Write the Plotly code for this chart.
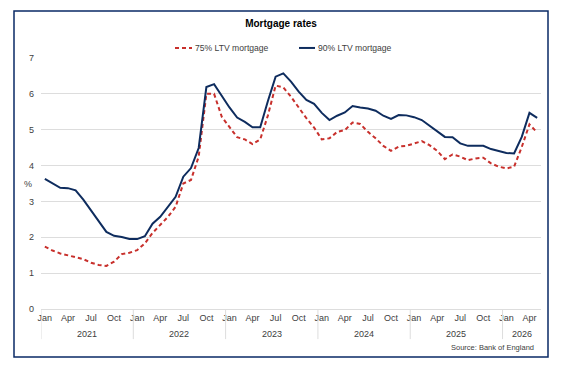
import plotly.graph_objects as go

years = [2021, 2022, 2023, 2024, 2025, 2026]
months = ["Jan", "Feb", "Mar", "Apr", "May", "Jun", "Jul", "Aug", "Sep", "Oct", "Nov", "Dec"]
shown_months = ["Jan", "Apr", "Jul", "Oct"]
n_months_last_year = 5
series_names = ["75% LTV mortgage", "90% LTV mortgage"]

ltv75 = [1.74, 1.63, 1.55, 1.49, 1.44, 1.39, 1.29, 1.23, 1.20, 1.32, 1.53, 1.57,
         1.64, 1.83, 2.12, 2.34, 2.57, 2.85, 3.50, 3.60, 4.25, 6.00, 6.00, 5.36,
         5.08, 4.79, 4.73, 4.60, 4.73, 5.40, 6.23, 6.18, 5.92, 5.62, 5.32, 5.06,
         4.73, 4.76, 4.94, 4.99, 5.20, 5.16, 4.94, 4.76, 4.55, 4.41, 4.53, 4.55,
         4.62, 4.68, 4.57, 4.41, 4.18, 4.31, 4.25, 4.15, 4.20, 4.22, 4.06, 3.97,
         3.92, 3.97, 4.52, 5.15, 4.92]
ltv90 = [3.63, 3.50, 3.38, 3.37, 3.31, 3.05, 2.75, 2.45, 2.15, 2.04, 2.01, 1.95,
         1.95, 2.03, 2.38, 2.57, 2.84, 3.13, 3.69, 3.93, 4.49, 6.19, 6.27, 5.95,
         5.62, 5.34, 5.22, 5.07, 5.07, 5.80, 6.48, 6.57, 6.34, 6.06, 5.83, 5.72,
         5.47, 5.27, 5.39, 5.48, 5.66, 5.62, 5.59, 5.53, 5.39, 5.30, 5.41, 5.40,
         5.35, 5.27, 5.11, 4.94, 4.80, 4.79, 4.62, 4.55, 4.55, 4.55, 4.46, 4.41,
         4.35, 4.34, 4.80, 5.47, 5.33]

labels = []
for y in years:
    cnt = n_months_last_year if y == years[-1] else 12
    for m in months[:cnt]:
        labels.append(f"{m} {y}")
idx = list(range(len(labels)))

tickvals = [i for i, l in enumerate(labels) if l.split()[0] in shown_months]
ticktext = [labels[i].split()[0] for i in tickvals]

navy = "#0E2C5E"
red = "#C8302C"
grid = "#DDDDDD"
txt = "#404040"
font = "Liberation Sans, Arial, sans-serif"
dash75 = "4px,3px"

fig = go.Figure()
fig.add_trace(go.Scatter(x=idx, y=ltv75, mode="lines", name=series_names[0],
                         line=dict(color=red, width=2, dash=dash75), text=labels,
                         hovertemplate="%{text}: %{y}<extra></extra>"))
fig.add_trace(go.Scatter(x=idx, y=ltv90, mode="lines", name=series_names[1],
                         line=dict(color=navy, width=2), text=labels,
                         hovertemplate="%{text}: %{y}<extra></extra>"))

shapes = []
# outer border
shapes.append(dict(type="rect", xref="paper", yref="paper", x0=-0.054, x1=1.014,
                   y0=-0.191, y1=1.187, line=dict(color="#0A2A66", width=1.5),
                   fillcolor="rgba(0,0,0,0)", layer="below"))
# year separators
start = 0
seps = [-0.5]
year_centers = []
for y in years:
    cnt = n_months_last_year if y == years[-1] else 12
    year_centers.append((y, start + (cnt - 1) / 2))
    start += cnt
    if y != years[-1]:
        seps.append(start - 0.5)
for s in seps:
    shapes.append(dict(type="line", xref="x", yref="paper", x0=s, x1=s, y0=0, y1=-0.12,
                       line=dict(color=grid, width=1)))

annotations = []
for y, c in year_centers:
    annotations.append(dict(x=c, y=-0.1, xref="x", yref="paper", text=str(y), showarrow=False,
                            font=dict(size=9, color=txt, family=font), yanchor="middle"))
annotations.append(dict(x=0.99, y=-0.155, xref="paper", yref="paper", text="Source: Bank of England",
                        showarrow=False, xanchor="right", yanchor="middle",
                        font=dict(size=7.5, color=txt, family=font)))
annotations.append(dict(x=-0.038, y=0.498, xref="paper", yref="paper", text="%", showarrow=False,
                        font=dict(size=9, color=txt, family=font)))

# legend drawn manually (short symbols as in the reference)
leg_y = 1.04
leg_items = [(0.268, 0.302, red, dash75, series_names[0]),
             (0.516, 0.548, navy, "solid", series_names[1])]
for x0, x1, col, d, name in leg_items:
    shapes.append(dict(type="line", xref="paper", yref="paper", x0=x0, x1=x1, y0=leg_y, y1=leg_y,
                       line=dict(color=col, width=2, dash=d)))
    annotations.append(dict(x=x1 + 0.002, y=leg_y, xref="paper", yref="paper", text=name,
                            showarrow=False, xanchor="left", yanchor="middle",
                            font=dict(size=8.6, color=txt, family=font)))

fig.update_layout(
    width=567, height=369,
    margin=dict(l=41, r=26, t=58, b=60),
    paper_bgcolor="white", plot_bgcolor="white",
    font=dict(family=font, size=9, color=txt),
    title=dict(text="<b>Mortgage rates</b>", x=0.4956, xanchor="center", y=0.935, yanchor="middle",
               font=dict(size=10, color="black", family=font)),
    shapes=shapes, annotations=annotations, showlegend=False,
)
fig.update_xaxes(range=[-0.5, len(labels) - 0.5], tickvals=tickvals, ticktext=ticktext,
                 showgrid=False, zeroline=False, showline=True, linecolor=grid, linewidth=1,
                 ticks="", tickfont=dict(size=9, color=txt, family=font), tickangle=0)
fig.update_yaxes(range=[0, 7], dtick=1, showgrid=True, gridcolor=grid, gridwidth=1,
                 zeroline=False, showline=False, ticks="",
                 tickfont=dict(size=9, color=txt, family=font), ticklabelstandoff=6)

fig.write_html("out.html")
